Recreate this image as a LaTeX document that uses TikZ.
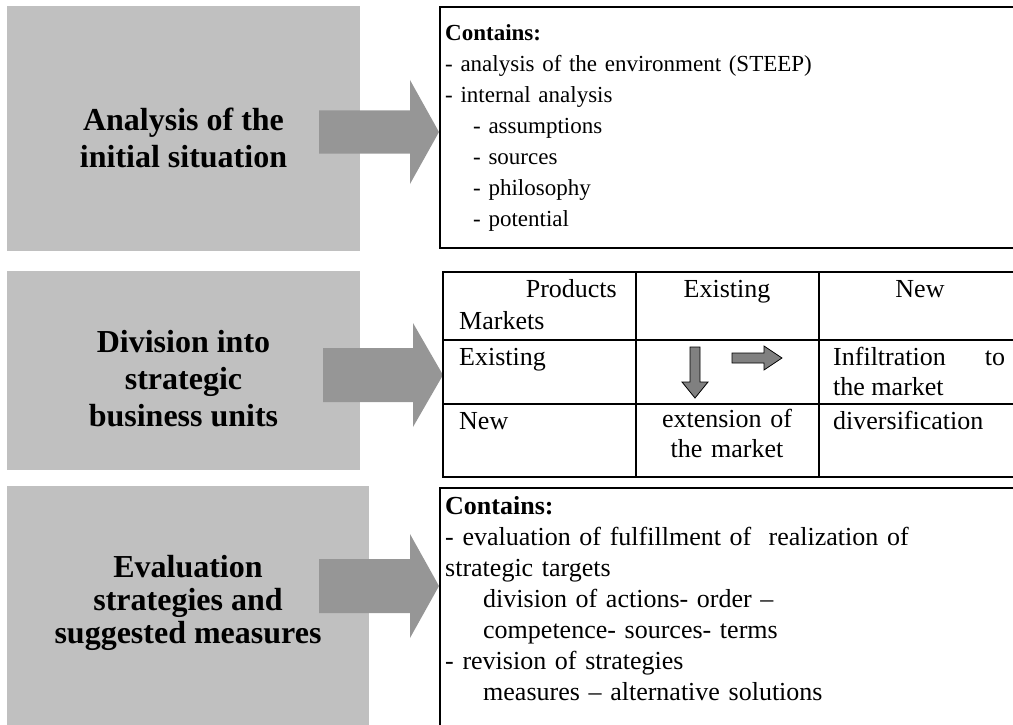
\documentclass[tikz,border=0pt]{standalone}
\usepackage{fontspec}
\setmainfont{Liberation Serif}
\usetikzlibrary{positioning}
\definecolor{stagegray}{RGB}{192,192,192}
\definecolor{arrowgray}{RGB}{150,150,150}
\definecolor{markgray}{RGB}{128,128,128}
\newcommand\titlefont{\fontsize{32}{37}\selectfont\bfseries}
\newcommand\boxfont{\fontsize{23}{31}\selectfont}
\newcommand\cellfont{\fontsize{26}{30}\selectfont}
\tikzset{stage/.style = {fill=stagegray,inner sep=0,anchor=north west},
         frame/.style = {draw,line width=1.6pt,inner sep=0,anchor=north west},
         title/.style = {font=\titlefont,align=center,inner sep=0},
         txt/.style = {font=\boxfont,inner sep=0,anchor=base west,text width=540pt,align=left},
         cell/.style = {font=\cellfont,inner sep=0},
         bigarrow/.style = {fill=arrowgray},
         markarrow/.style = {fill=markgray,draw=black,line width=0.8pt,line join=miter}}

\begin{document}
\begin{tikzpicture}[x=1pt,y=-1pt]
  \useasboundingbox (0,0) rectangle (1013,725);
  \clip (0,0) rectangle (1013,725);

  % grey stages on the left
  \node[stage,minimum width=353pt,minimum height=245pt] (s1) at (7,6)   {};
  \node[stage,minimum width=353pt,minimum height=199pt] (s2) at (7,271) {};
  \node[stage,minimum width=362pt,minimum height=245pt] (s3) at (7,486) {};

  \node[title] (t1) at (183.5,138) {Analysis of the\\initial situation};
  \node[title] (t2) at (183.5,379) {Division into\\strategic\\business units};
  \node[title,font=\fontsize{32}{33}\selectfont\bfseries] (t3) at (188,603) {Evaluation\\strategies and\\suggested measures};

  % block arrows
  \fill[bigarrow] (319,110.5) -- (410,110.5) -- (410,80) -- (439,132) -- (410,184) -- (410,153.5) -- (319,153.5) -- cycle;
  \fill[bigarrow] (323,348) -- (413,348) -- (413,323) -- (443,375) -- (413,427) -- (413,402) -- (323,402) -- cycle;
  \fill[bigarrow] (319,559) -- (410,559) -- (410,534) -- (439,586) -- (410,638) -- (410,613) -- (319,613) -- cycle;

  % right hand boxes
  \node[frame,minimum width=600pt,minimum height=241pt] (c1) at (439,6)   {};
  \node[frame,minimum width=600pt,minimum height=260pt] (c3) at (439,487) {};

  \node[txt] (l1) at (445,41) {\textbf{Contains:}\\
    - analysis of the environment (STEEP)\\
    - internal analysis\\
    \hspace*{28pt}- assumptions\\
    \hspace*{28pt}- sources\\
    \hspace*{28pt}- philosophy\\
    \hspace*{28pt}- potential};

  \node[txt,font=\fontsize{26}{31}\selectfont] (l3) at (445,514) {\textbf{Contains:}\\
    - evaluation of fulfillment of \ realization of\\
    strategic targets\\
    \hspace*{38pt}division of actions- order --\\
    \hspace*{38pt}competence- sources- terms\\
    - revision of strategies\\
    \hspace*{38pt}measures -- alternative solutions};

  % product / market table
  \draw[line width=1.6pt] (443,272) rectangle (1040,477);
  \draw[line width=1.6pt] (636,272) -- (636,477) (819,272) -- (819,477)
                          (443,340) -- (1040,340) (443,404) -- (1040,404);

  \node[cell,anchor=base east] (prod)   at (617,297) {Products};
  \node[cell,anchor=base west] (mkts)   at (459,329) {Markets};
  \node[cell,anchor=base]      (hexist) at (727,297) {Existing};
  \node[cell,anchor=base]      (hnew)   at (920,297) {New};
  \node[cell,anchor=base west] (rexist) at (459,365) {Existing};
  \node[cell,anchor=base west] (rnew)   at (459,429) {New};
  \node[cell,anchor=base west,text width=172pt,align=justify] (infil) at (833,365) {Infiltration to\linebreak the market};
  \node[cell,anchor=base,text width=170pt,align=center] (ext) at (727,427) {extension of\\the market};
  \node[cell,anchor=base west] (divers) at (833,429) {diversification};

  % small arrows in the table
  \filldraw[markarrow] (690,347) -- (700,347) -- (700,382) -- (708,382) -- (695,398) -- (682,382) -- (690,382) -- cycle;
  \filldraw[markarrow] (732,353) -- (764,353) -- (764,346) -- (782,358) -- (764,370) -- (764,363) -- (732,363) -- cycle;
\end{tikzpicture}
\end{document}
